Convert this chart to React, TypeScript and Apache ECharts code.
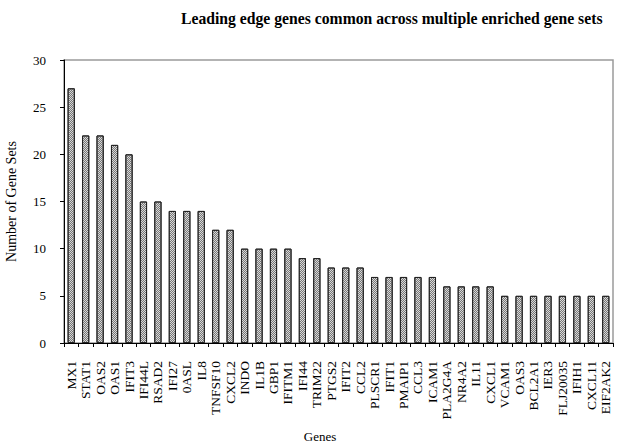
import React, { useEffect, useRef } from "react";
import * as echarts from "echarts";

const genes = ["MX1","STAT1","OAS2","OAS1","IFIT3","IFI44L","RSAD2","IFI27","0ASL","IL8","TNFSF10","CXCL2","INDO","IL1B","GBP1","IFITM1","IFI44","TRIM22","PTGS2","IFIT2","CCL2","PLSCR1","IFIT1","PMAIP1","CCL3","ICAM1","PLA2G4A","NR4A2","IL11","CXCL1","VCAM1","OAS3","BCL2A1","IER3","FLJ20035","IFIH1","CXCL11","EIF2AK2"];
const geneSetCounts = [27,22,22,21,20,15,15,14,14,14,12,12,10,10,10,10,9,9,8,8,8,7,7,7,7,7,6,6,6,6,5,5,5,5,5,5,5,5];
const yTicks = [0, 5, 10, 15, 20, 25, 30];

const FONT = "'Liberation Serif', 'Times New Roman', serif";

export default function App() {
  const ref = useRef<HTMLDivElement>(null);
  useEffect(() => {
    if (!ref.current) return;
    const chart = echarts.init(ref.current, null, { renderer: "svg" });
    chart.setOption({
      animation: false,
      backgroundColor: "#fff",
      title: {
        text: "Leading edge genes common across multiple enriched gene sets",
        left: 176,
        top: 5,
        textStyle: { fontFamily: FONT, fontSize: 15.7, fontWeight: "bold", color: "#000" },
      },
      grid: {
        left: 64, right: 8, top: 60, bottom: 105,
        outerBoundsMode: "none",
        containLabel: false,
        show: true, borderColor: "#9a9a9a", borderWidth: 1.5, backgroundColor: "transparent",
      },
      xAxis: {
        type: "category",
        data: genes,
        name: "Genes",
        nameLocation: "middle",
        nameGap: 87,
        nameTextStyle: { fontFamily: FONT, fontSize: 13, color: "#000", padding: [0, 37, 0, 0] },
        axisLine: { lineStyle: { color: "#000" } },
        axisTick: { show: true, alignWithLabel: false, length: 4, inside: false, lineStyle: { color: "#000" } },
        axisLabel: { rotate: 90, interval: 0, fontFamily: FONT, fontSize: 13.5, color: "#000", margin: 18 },
      },
      yAxis: {
        type: "value",
        min: 0, max: 30, interval: 5,
        name: "Number of Gene Sets",
        nameLocation: "middle",
        nameGap: 46,
        nameRotate: 90,
        nameTextStyle: { fontFamily: FONT, fontSize: 14, color: "#000" },
        axisLine: { show: true, lineStyle: { color: "#000" } },
        axisTick: { show: true, length: 4, lineStyle: { color: "#000" } },
        splitLine: { show: false },
        axisLabel: {
          fontFamily: FONT, fontSize: 13, color: "#000", margin: 18,
          formatter: (v: number) => (yTicks.includes(v) ? String(v) : ""),
        },
      },
      series: [
        {
          type: "bar",
          data: geneSetCounts,
          barWidth: "50%",
          itemStyle: {
            color: "#d8d8d8",
            borderColor: "#222",
            borderWidth: 1,
            decal: {
              symbol: "rect",
              symbolSize: 1,
              dashArrayX: [[1, 1], [0, 1, 1, 0]],
              dashArrayY: [1, 0],
              color: "#777",
              backgroundColor: "#e6e6e6",
            },
          },
        },
      ],
    });
    return () => chart.dispose();
  }, []);
  return <div ref={ref} style={{ width: 621, height: 448, position: "absolute", left: 0, top: 0 }} />;
}
